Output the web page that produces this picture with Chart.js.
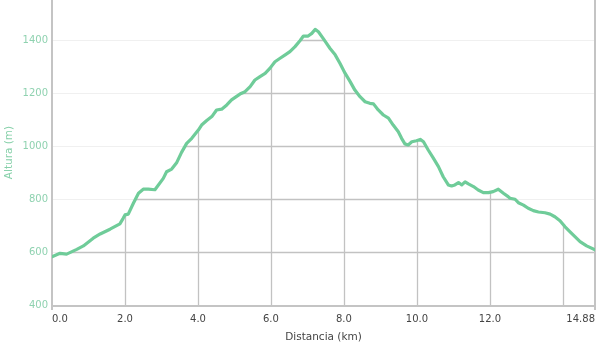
<!DOCTYPE html>
<html>
<head>
<meta charset="utf-8">
<script src="https://cdn.jsdelivr.net/npm/chart.js@4/dist/chart.umd.min.js"></script>
<style>
html,body{margin:0;padding:0;background:#fff;}
#wrap{width:599px;height:345px;position:relative;}
</style>
</head>
<body>
<div id="wrap"><canvas id="c" width="599" height="345"></canvas></div>
<script>
// Distance along the track (km)
const distances = [0.00,0.22,0.40,0.68,0.86,1.13,1.32,1.59,1.86,1.95,2.00,2.09,2.23,2.37,2.50,2.64,2.82,3.05,3.14,3.28,3.42,3.55,3.69,3.83,4.01,4.10,4.24,4.38,4.51,4.65,4.79,4.92,5.15,5.29,5.43,5.56,5.70,5.84,5.97,6.11,6.25,6.39,6.52,6.66,6.80,6.89,7.02,7.12,7.21,7.30,7.43,7.62,7.76,7.89,8.03,8.17,8.30,8.44,8.58,8.71,8.81,8.94,9.08,9.22,9.35,9.49,9.58,9.67,9.76,9.86,9.99,10.09,10.18,10.31,10.45,10.59,10.72,10.86,10.95,11.04,11.14,11.23,11.32,11.41,11.55,11.68,11.82,11.96,12.09,12.23,12.37,12.50,12.55,12.69,12.78,12.92,13.05,13.19,13.33,13.51,13.65,13.78,13.92,14.06,14.19,14.33,14.47,14.65,14.88];
// Elevation (m)
const elevations = [582,595,592,610,623,652,668,686,706,727,740,743,784,822,837,837,835,878,903,913,938,976,1010,1029,1060,1079,1096,1111,1136,1139,1155,1174,1196,1205,1224,1249,1262,1274,1293,1318,1331,1344,1356,1375,1398,1415,1415,1425,1440,1431,1406,1368,1344,1312,1275,1243,1211,1186,1167,1161,1159,1136,1117,1105,1079,1054,1029,1008,1004,1016,1020,1025,1016,985,954,922,884,853,849,853,862,853,865,857,847,834,824,824,828,837,822,809,803,799,786,777,765,756,751,748,743,733,718,695,677,658,639,623,608];
// Tick values
const xTicks = [0,2,4,6,8,10,12,14,14.88];
const yTicks = [400,600,800,1000,1200,1400];
const xTitle = 'Distancia (km)';
const yTitle = 'Altura (m)';

const points = distances.map((d,i)=>({x:d,y:elevations[i]}));

const gridUnderLine = {
  id:'gridUnderLine',
  beforeDatasetsDraw(chart){
    const {ctx, chartArea:a, scales:{x,y}} = chart;
    const meta = chart.getDatasetMeta(0);
    const pts = meta.data;
    ctx.save();
    ctx.beginPath();
    ctx.moveTo(pts[0].x, a.bottom);
    pts.forEach(p=>ctx.lineTo(p.x,p.y));
    ctx.lineTo(pts[pts.length-1].x, a.bottom);
    ctx.closePath();
    ctx.clip();
    ctx.strokeStyle='#c2c2c2';
    ctx.lineWidth=1.3;
    xTicks.slice(1,-1).forEach(v=>{
      const px=Math.round(x.getPixelForValue(v))+0.5;
      ctx.beginPath();ctx.moveTo(px,a.top);ctx.lineTo(px,a.bottom);ctx.stroke();
    });
    yTicks.slice(1).forEach(v=>{
      const py=Math.round(y.getPixelForValue(v))+0.5;
      ctx.beginPath();ctx.moveTo(a.left,py);ctx.lineTo(a.right,py);ctx.stroke();
    });
    ctx.restore();
    ctx.save();
    ctx.strokeStyle='#c4c4c4';
    ctx.lineWidth=2;
    ctx.beginPath();
    ctx.moveTo(a.left,0);ctx.lineTo(a.left,a.bottom+5);
    ctx.moveTo(a.right,0);ctx.lineTo(a.right,a.bottom+5);
    ctx.moveTo(a.left,a.bottom+1);ctx.lineTo(a.right,a.bottom+1);
    ctx.stroke();
    ctx.restore();
  }
};

new Chart(document.getElementById('c'),{
  type:'line',
  data:{datasets:[{
    data:points,
    borderColor:'#6fcc99',
    borderWidth:3.2,
    pointRadius:0,
    tension:0,
    fill:false,
    borderJoinStyle:'round',
    borderCapStyle:'round'
  }]},
  options:{
    responsive:false,
    animation:false,
    layout:{padding:{left:0,right:4,top:0,bottom:0}},
    plugins:{legend:{display:false},tooltip:{enabled:false}},
    scales:{
      x:{
        type:'linear',
        min:0,max:14.88,
        afterBuildTicks(s){ s.ticks = xTicks.map(v=>({value:v})); },
        afterFit(s){ s.height=40; s.paddingLeft=0; s.paddingRight=0; },
        grid:{display:false,drawTicks:false},
        border:{display:false},
        ticks:{
          autoSkip:false,maxRotation:0,align:'inner',padding:8,
          color:'#444',
          font:{family:'"DejaVu Sans", Verdana, sans-serif',size:10},
          callback(v){ if(v===14) return ''; if(v===14.88) return '14.88'; return Number(v).toFixed(1); }
        },
        title:{display:true,text:xTitle,color:'#444',
          font:{family:'"DejaVu Sans", Verdana, sans-serif',size:10.5},
          padding:{top:0,bottom:1}}
      },
      y:{
        min:400,max:1551,
        afterBuildTicks(s){ s.ticks = yTicks.map(v=>({value:v})); },
        afterFit(s){ s.width=52; s.paddingTop=0; s.paddingBottom=0; },
        grid:{color:'#f0f0f0',lineWidth:1,drawTicks:false},
        border:{display:false},
        ticks:{
          padding:4,color:'#8fd2b0',
          font:{family:'"DejaVu Sans", Verdana, sans-serif',size:10},
          callback(v){ return String(v); }
        },
        title:{display:true,text:yTitle,color:'#86d0a9',
          font:{family:'"DejaVu Sans", Verdana, sans-serif',size:10.5},
          padding:{top:3,bottom:0}}
      }
    }
  },
  plugins:[gridUnderLine]
});
</script>
</body>
</html>
